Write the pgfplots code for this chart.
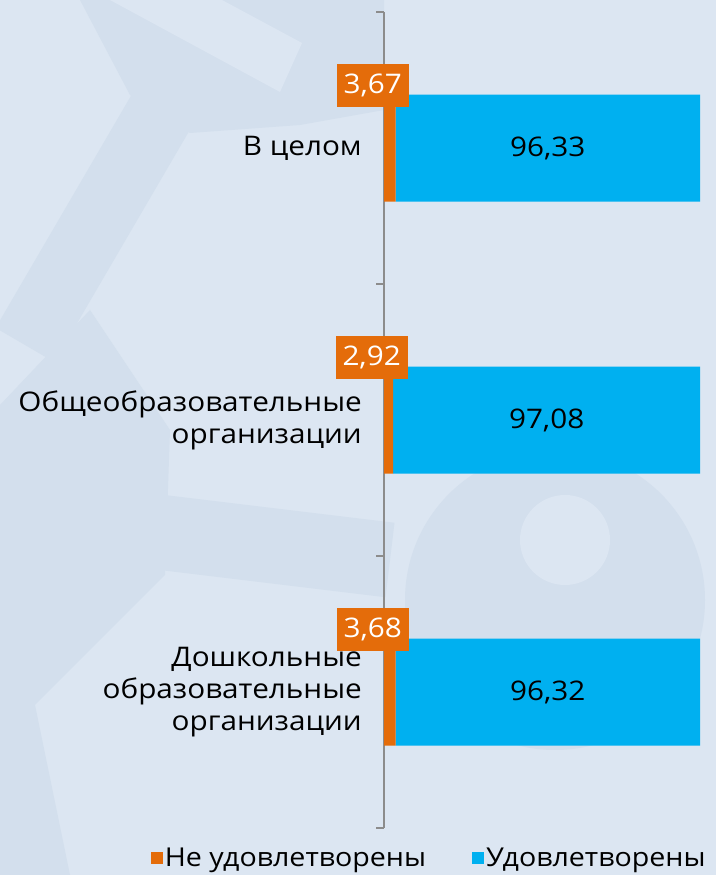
\documentclass[border=0pt]{standalone}
\usepackage{pgfplots}
\pgfplotsset{compat=1.18}
\usepackage{fontspec}
\setmainfont[FakeStretch=1.1]{Open Sans}
\definecolor{bg}{HTML}{DCE6F2}
\definecolor{deco}{HTML}{D3DFED}
\definecolor{oran}{HTML}{E46C0A}
\definecolor{cyanb}{HTML}{00B0F0}
\definecolor{axgray}{HTML}{8C8C8C}
\begin{document}
\begin{tikzpicture}[x=1pt,y=1pt]
\fill[bg] (0,0) rectangle (716,875);
\begin{scope}
\clip (0,0) rectangle (716,875);
% decorative background (image y -> 875-y)
\fill[deco] (555,275) circle (150);
\fill[bg] (565,335) circle (45);
% top band region
\fill[deco] (80,875) -- (384,875) -- (384,765) -- (300,750) -- (190,742) -- (130,780) -- cycle;
\fill[bg] (110,875) -- (280,783) -- (302,832) -- (222,875) -- cycle;
% diagonal band down-left
\draw[deco, line width=68pt] (165,770) -- (25,530);
% middle-left region
\fill[deco] (0,470) -- (90,565) -- (170,445) -- (165,300) -- (35,170) -- (70,0) -- (0,0) -- cycle;
% horizontal band
\draw[deco, line width=75pt] (100,350) -- (390,315);
\end{scope}
\begin{axis}[
  at={(384pt,47pt)}, anchor=south west,
  scale only axis, width=316pt, height=816pt,
  xmin=0, xmax=100, ymin=-0.5, ymax=2.5, y dir=reverse,
  xbar stacked, bar width=107pt,
  clip=false,
  hide x axis,
  axis y line*=left,
  axis line style={draw=axgray, line width=1.2pt},
  tick align=outside,
  ytick={0,1,2},
  major tick length=0pt,
  yticklabels={{В целом},{Общеобразовательные\\организации},{Дошкольные\\образовательные\\организации}},
  yticklabel style={align=right, font=\fontsize{27}{32}\selectfont, inner sep=0pt, xshift=-22pt},
  extra y ticks={-0.5,0.5,1.5,2.5},
  extra y tick labels={},
  extra y tick style={major tick length=8pt, tick style={draw=axgray, line width=1.2pt}},
  legend columns=2,
  legend style={draw=none, fill=none, font=\fontsize{26}{30}\selectfont,
    at={(axis description cs:0.143,-0.037)}, anchor=center,
    /tikz/every even column/.append style={column sep=44pt}},
  legend image code/.code={\fill[#1,draw=none] (0pt,-6pt) rectangle (12pt,6pt);},
]
\addplot[fill=oran, draw=none, point meta=explicit symbolic, nodes near coords,
  nodes near coords style={anchor=center, xshift=-17pt, yshift=63pt, fill=oran, text=white,
    minimum width=72pt, minimum height=43pt, inner sep=0pt, font=\fontsize{27}{28}\selectfont}]
  table[x=v, y=c, meta=l] {
c v l
0 3.67 3,67
1 2.92 2,92
2 3.68 3,68
};
\addlegendentry{Не удовлетворены}
\addplot[fill=cyanb, draw=none, point meta=explicit symbolic, nodes near coords,
  nodes near coords style={anchor=center, text=black, font=\fontsize{27}{28}\selectfont}]
  table[x=v, y=c, meta=l] {
c v l
0 96.33 96,33
1 97.08 97,08
2 96.32 96,32
};
\addlegendentry{Удовлетворены}
\end{axis}
\end{tikzpicture}
\end{document}
